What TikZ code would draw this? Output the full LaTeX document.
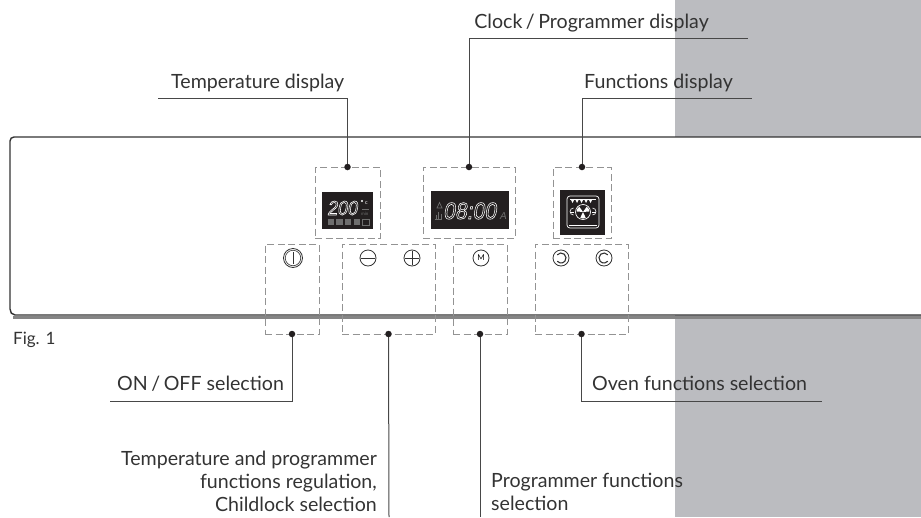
\documentclass[tikz,border=0pt]{standalone}
\usepackage{fontspec}
\setmainfont{Lato}
\newfontfamily\lcdfont[FakeSlant=0.18]{Liberation Sans}
\definecolor{ink}{HTML}{333333}
\definecolor{panelgray}{HTML}{BBBCC0}
\definecolor{dashgray}{HTML}{939393}
\definecolor{shadowgray}{HTML}{858585}
\definecolor{dimlcd}{HTML}{6E6E6E}
\definecolor{lcdblack}{HTML}{231F20}
\newcommand{\hollowtext}[1]{\scalebox{0.9}[1]{\special{pdf:code 1 Tr 0.6 w 1 1 1 RG}#1\special{pdf:code 0 Tr}}}
\tikzset{
  dashbox/.style={draw=dashgray,line width=1pt,dash pattern=on 7pt off 3.5pt,inner sep=0,outer sep=0,fill=none},
  leader/.style={draw=ink!90,line width=1pt},
  dotmark/.style={circle,fill=lcdblack,inner sep=0,minimum size=6.5pt},
  lbl/.style={font=\fontsize{19.6}{23}\selectfont,text=ink,inner sep=0},
  lcdbox/.style={fill=lcdblack,draw=none,inner sep=0,outer sep=0},
  knob/.style={circle,draw=ink,line width=0.8pt,inner sep=0,minimum size=16pt,fill=white},
  dimtxt/.style={text=dimlcd,inner sep=0},
}
\begin{document}
\begin{tikzpicture}[x=1pt,y=-1pt]
\useasboundingbox (0,0) rectangle (921,517);
\fill[panelgray] (675,0) rectangle (921,517);
% panel
\fill[white] (10,137) rectangle (921,315);
\fill[shadowgray] (13,316) rectangle (921,319);
\draw[ink,line width=1.4pt] (921,137) -- (14,137) to[out=180,in=90] (10,141) -- (10,309) to[out=-90,in=180] (15,315) -- (921,315);
% dashed boxes
\node[dashbox,minimum width=65pt,minimum height=71pt] (tempbox) at (347.5,202.5) {};
\node[dashbox,minimum width=92pt,minimum height=71pt] (clockbox) at (469,202.5) {};
\node[dashbox,minimum width=58pt,minimum height=71pt] (funcbox) at (582,202.5) {};
\node[dashbox,minimum width=54pt,minimum height=90pt] (onbox) at (292,289) {};
\node[dashbox,minimum width=93pt,minimum height=90pt] (regbox) at (388.5,289) {};
\node[dashbox,minimum width=54pt,minimum height=90pt] (mbox) at (480,289) {};
\node[dashbox,minimum width=93pt,minimum height=90pt] (ovenbox) at (581.5,289) {};
% displays
\node[lcdbox,minimum width=51pt,minimum height=37pt] (tempd) at (347.5,210.5) {};
\node[lcdbox,minimum width=78pt,minimum height=38pt] (clockd) at (470,210) {};
\node[lcdbox,minimum width=45pt,minimum height=45pt] (funcd) at (582.5,212.5) {};
% temperature display content
\node[inner sep=0,text=white,font=\lcdfont\fontsize{20}{20}\selectfont,anchor=base west] (t200) at (327,215) {\hollowtext{200}};
\fill[white] (362,201) circle (1.1pt);
\node[inner sep=0,text=white,font=\fontsize{5.5}{5}\selectfont,anchor=base west] (tc) at (365,204) {c};
\draw[dimlcd,line width=0.6pt] (362,209) -- (369,209);
\node[dimtxt,font=\fontsize{4.5}{5}\selectfont,anchor=base west] (tmin) at (361,215) {min};
\foreach \x in {327.5,336,344.5,353.5}{\fill[dimlcd] (\x,219) rectangle ++(6.5,5.5);}
\draw[dimlcd,line width=0.7pt] (362.5,219.5) rectangle (369,225);
% clock display content
\node[inner sep=0,text=white,font=\lcdfont\fontsize{23.5}{24}\selectfont,anchor=base west] (t0800) at (443,219) {\hollowtext{08:00}};
\node[dimtxt,font=\lcdfont\fontsize{10}{10}\selectfont,anchor=base west] (ta) at (499.5,219) {A};
\draw[dimlcd,line width=0.7pt] (437,208) -- (439.5,202.5) -- (442,208) -- cycle;
\draw[dimlcd,line width=0.8pt] (434.5,219) -- (441.5,219) (436,215) -- (436,218.5) (438,212) -- (438,218.5) (441,214) -- (441,218.5);
% functions display content
\draw[white,line width=0.7pt,rounded corners=3pt] (567,196) rectangle (599,228);
\draw[white,line width=0.6pt] (569,225.5) -- (597,225.5) (570,199.5) -- (596,199.5);
\foreach \x in {572.5,577,581.5,586,590.5}{\fill[white] (\x-1.5,200) -- (\x+1.5,200) -- (\x,203) -- cycle;}
\draw[white,line width=0.7pt] (583,212) circle (7.5pt);
\foreach \a in {30,150,270}{\fill[white] (583,212) -- ++(\a-25:6.5pt) arc (\a-25:\a+25:6.5pt) -- cycle;}
\draw[white,line width=0.6pt] (573.5,208) arc (90:270:3.5pt) (592.5,208) arc (90:-90:3.5pt);
\draw[white,line width=0.6pt] (570,212) -- (574,212) (592,212) -- (596,212);
% knobs
\node[knob,minimum size=19pt] (power) at (293,258) {};
\node[circle,draw=ink,line width=0.6pt,inner sep=0,minimum size=15.5pt] (powerin) at (293,258) {};
\draw[ink,line width=0.9pt] (293,252) -- (293,264);
\node[knob] (minus) at (368,258) {};
\draw[ink,line width=0.9pt] (361,258) -- (375,258);
\node[knob] (plus) at (412,258) {};
\draw[ink,line width=0.9pt] (405,258) -- (419,258) (412,251) -- (412,265);
\node[knob,font=\fontsize{8}{8}\selectfont] (mk) at (481,258) {M};
\node[knob] (ovl) at (561,258) {};
\draw[ink,line width=1.1pt] (557.2,254.8) arc (140:-140:5pt);
\node[knob] (ovr) at (604,258) {};
\draw[ink,line width=1.1pt] (607.8,254.8) arc (40:320:5pt);
% leaders
\coordinate (tempend) at (158,98);
\coordinate (clockend) at (748,38);
\coordinate (funcend) at (752,98);
\coordinate (onend) at (110,401);
\coordinate (regend) at (389,517);
\coordinate (mend) at (480,517);
\coordinate (ovenend) at (822,401);
\draw[leader] (tempbox.north) |- (tempend);
\draw[leader] (clockbox.north) |- (clockend);
\draw[leader] (funcbox.north) |- (funcend);
\draw[leader] (onbox.south) |- (onend);
\draw[leader] (regbox.south) -- (regend);
\draw[leader] (mbox.south) -- (mend);
\draw[leader] (ovenbox.south) |- (ovenend);
\foreach \b/\s in {tempbox/north,clockbox/north,funcbox/north,onbox/south,regbox/south,mbox/south,ovenbox/south}{
  \node[dotmark] (dot\b) at (\b.\s) {};
}
% labels
\node[lbl,anchor=base east] (lclock) at (709,28) {Clock\hspace{0.18em}/\hspace{0.18em}Programmer display};
\node[lbl,anchor=base west] (ltemp) at (171,88) {Temperature display};
\node[lbl,anchor=base east] (lfunc) at (733,88) {Functions display};
\node[lbl,anchor=base west,font=\fontsize{17}{20}\selectfont] (lfig) at (13,344) {Fig. 1};
\node[lbl,anchor=base west] (lon) at (117,390) {ON\hspace{0.18em}/\hspace{0.18em}OFF selection};
\node[lbl,anchor=base west] (loven) at (592,390) {Oven functions selection};
\node[lbl,anchor=base east] (lreg1) at (377,465) {Temperature and programmer};
\node[lbl,anchor=base east] (lreg2) at (377,488) {functions regulation,};
\node[lbl,anchor=base east] (lreg3) at (377,511) {Childlock selection};
\node[lbl,anchor=base west] (lprog1) at (491,487) {Programmer functions};
\node[lbl,anchor=base west] (lprog2) at (491,510) {selection};
\end{tikzpicture}
\end{document}
